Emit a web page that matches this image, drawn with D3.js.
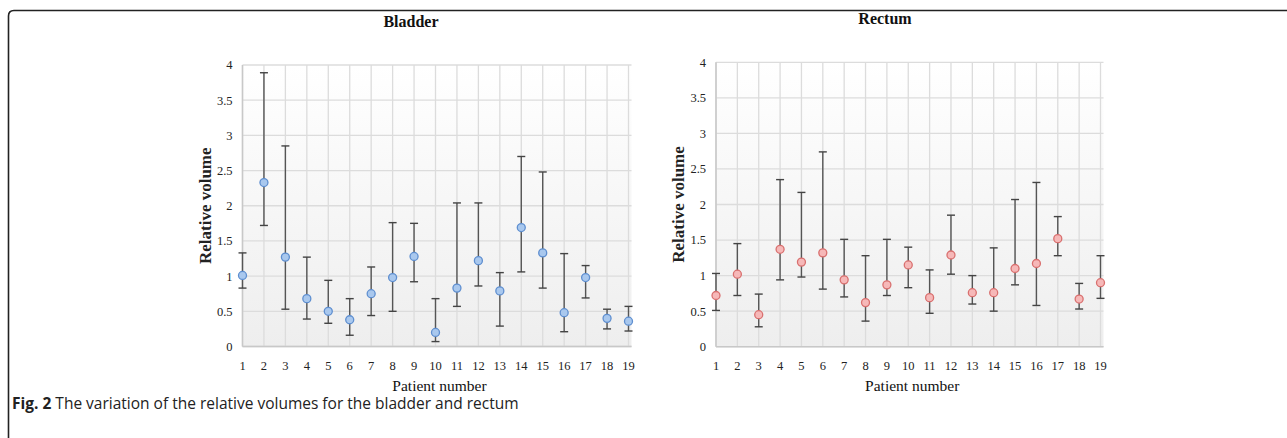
<!DOCTYPE html>
<html>
<head>
<meta charset="utf-8">
<script src="https://cdn.jsdelivr.net/npm/d3@7"></script>
<style>
  body { margin: 0; background: #fff; }
  svg { display: block; }
</style>
</head>
<body>
<script>
(function() {

    const width = 1287;
    const height = 438;

    const patients = d3.range(1, 20);
    const yTicks = [0, 0.5, 1, 1.5, 2, 2.5, 3, 3.5, 4];

    // bladder: mean, lower and upper end of the bar
    const bladderMean = [1.01, 2.33, 1.27, 0.68, 0.50, 0.38, 0.75, 0.98, 1.28, 0.20, 0.83, 1.22, 0.79, 1.69, 1.33, 0.48, 0.98, 0.40, 0.36];
    const bladderLow  = [0.83, 1.72, 0.53, 0.39, 0.33, 0.16, 0.44, 0.50, 0.92, 0.07, 0.57, 0.86, 0.29, 1.06, 0.83, 0.21, 0.69, 0.25, 0.22];
    const bladderHigh = [1.33, 3.89, 2.85, 1.27, 0.94, 0.68, 1.13, 1.76, 1.75, 0.68, 2.04, 2.04, 1.05, 2.70, 2.48, 1.32, 1.15, 0.53, 0.57];

    // rectum
    const rectumMean = [0.72, 1.02, 0.45, 1.37, 1.19, 1.32, 0.94, 0.62, 0.87, 1.15, 0.69, 1.29, 0.76, 0.76, 1.10, 1.17, 1.52, 0.67, 0.90];
    const rectumLow  = [0.51, 0.72, 0.28, 0.94, 0.98, 0.81, 0.70, 0.36, 0.72, 0.83, 0.47, 1.02, 0.60, 0.50, 0.87, 0.58, 1.28, 0.53, 0.68];
    const rectumHigh = [1.03, 1.45, 0.74, 2.35, 2.17, 2.74, 1.51, 1.28, 1.51, 1.40, 1.08, 1.85, 1.00, 1.39, 2.07, 2.31, 1.83, 0.89, 1.28];

    const svg = d3.select("body").append("svg")
        .attr("width", width)
        .attr("height", height);

    // figure frame (rounded top-left corner)
    svg.append("path")
        .attr("d", "M8.5,438 L8.5,16 Q8.5,10.5 14,10.5 L1287,10.5")
        .style("fill", "none")
        .style("stroke", "#222")
        .style("stroke-width", 1.6);

    const defs = svg.append("defs");
    const grad = defs.append("linearGradient")
        .attr("id", "plotbg")
        .attr("x1", 0).attr("y1", 0).attr("x2", 0).attr("y2", 1);
    grad.append("stop").attr("offset", "0%").attr("stop-color", "#ffffff");
    grad.append("stop").attr("offset", "100%").attr("stop-color", "#eeeeee");

    function makePanel(opts) {
        let x = d3.scaleLinear().domain([1, 19]).range([opts.x0, opts.x1]);
        let y = d3.scaleLinear().domain([0, 4]).range([opts.y0, opts.y1]);
        let g = svg.append("g");

        g.append("rect")
            .attr("x", opts.x0)
            .attr("y", opts.y1)
            .attr("width", opts.x1 - opts.x0 + 3)
            .attr("height", opts.y0 - opts.y1)
            .style("fill", "url(#plotbg)");

        // grid
        g.selectAll(".hgrid")
            .data(yTicks)
            .enter()
            .append("line")
            .attr("x1", opts.x0)
            .attr("x2", opts.x1 + 3)
            .attr("y1", d => y(d))
            .attr("y2", d => y(d))
            .style("stroke", "#dcdcdc")
            .style("stroke-width", 1.3);

        g.selectAll(".vgrid")
            .data(patients)
            .enter()
            .append("line")
            .attr("x1", d => x(d))
            .attr("x2", d => x(d))
            .attr("y1", opts.y1)
            .attr("y2", opts.y0)
            .style("stroke", "#dcdcdc")
            .style("stroke-width", 1.3);

        // axis lines
        g.append("line")
            .attr("x1", opts.x0).attr("x2", opts.x1 + 3)
            .attr("y1", opts.y0).attr("y2", opts.y0)
            .style("stroke", "#c8c8c8").style("stroke-width", 1.5);
        g.append("line")
            .attr("x1", opts.x0).attr("x2", opts.x0)
            .attr("y1", opts.y1).attr("y2", opts.y0)
            .style("stroke", "#c8c8c8").style("stroke-width", 1.5);

        // tick labels
        g.selectAll(".ylab")
            .data(yTicks)
            .enter()
            .append("text")
            .attr("x", opts.x0 - 10)
            .attr("y", d => y(d))
            .attr("dy", "0.35em")
            .attr("text-anchor", "end")
            .style("font-family", "Liberation Serif, serif")
            .style("font-size", "12.5px")
            .style("fill", "#222")
            .text(d => d);

        g.selectAll(".xlab")
            .data(patients)
            .enter()
            .append("text")
            .attr("x", d => x(d))
            .attr("y", opts.y0 + 23)
            .attr("text-anchor", "middle")
            .style("font-family", "Liberation Serif, serif")
            .style("font-size", "12.5px")
            .style("fill", "#222")
            .text(d => d);

        // titles
        g.append("text")
            .attr("x", opts.titleX)
            .attr("y", opts.titleY)
            .attr("text-anchor", "middle")
            .style("font-family", "Liberation Serif, serif")
            .style("font-weight", "bold")
            .style("font-size", "16px")
            .style("fill", "#111")
            .text(opts.title);

        g.append("text")
            .attr("x", (opts.x0 + opts.x1) / 2 + 4)
            .attr("y", opts.y0 + 44)
            .attr("text-anchor", "middle")
            .style("font-family", "Liberation Serif, serif")
            .style("font-size", "15.5px")
            .style("fill", "#111")
            .text("Patient number");

        g.append("text")
            .attr("transform", "translate(" + (opts.x0 - 32) + "," + ((opts.y0 + opts.y1) / 2) + ") rotate(-90)")
            .attr("text-anchor", "middle")
            .style("font-family", "Liberation Serif, serif")
            .style("font-weight", "bold")
            .style("font-size", "17px")
            .style("fill", "#222")
            .text("Relative volume");

        // error bars
        let bars = g.selectAll(".bar")
            .data(patients)
            .enter()
            .append("g");

        bars.append("line")
            .attr("x1", d => x(d)).attr("x2", d => x(d))
            .attr("y1", (d, i) => y(opts.low[i]))
            .attr("y2", (d, i) => y(opts.high[i]))
            .style("stroke", "#555").style("stroke-width", 1.4);
        bars.append("line")
            .attr("x1", d => x(d) - 4).attr("x2", d => x(d) + 4)
            .attr("y1", (d, i) => y(opts.low[i]))
            .attr("y2", (d, i) => y(opts.low[i]))
            .style("stroke", "#444").style("stroke-width", 1.4);
        bars.append("line")
            .attr("x1", d => x(d) - 4).attr("x2", d => x(d) + 4)
            .attr("y1", (d, i) => y(opts.high[i]))
            .attr("y2", (d, i) => y(opts.high[i]))
            .style("stroke", "#444").style("stroke-width", 1.4);

        bars.append("circle")
            .attr("cx", d => x(d))
            .attr("cy", (d, i) => y(opts.mean[i]))
            .attr("r", 4)
            .style("fill", opts.fill)
            .style("stroke", opts.stroke)
            .style("stroke-width", 1.3);
    }

    makePanel({
        title: "Bladder", titleX: 411, titleY: 27,
        x0: 242.5, x1: 628.5, y0: 346.5, y1: 65,
        mean: bladderMean, low: bladderLow, high: bladderHigh,
        fill: "#a9c8ee", stroke: "#5f8fd0"
    });

    makePanel({
        title: "Rectum", titleX: 885, titleY: 24,
        x0: 716, x1: 1100.5, y0: 346.7, y1: 62.3,
        mean: rectumMean, low: rectumLow, high: rectumHigh,
        fill: "#f6b8b8", stroke: "#d9706f"
    });

    // caption
    let cap = svg.append("text")
        .attr("x", 12)
        .attr("y", 409)
        .style("font-family", "Open Sans, sans-serif")
        .style("font-size", "15.5px")
        .style("fill", "#222");
    cap.append("tspan").style("font-weight", "bold").text("Fig. 2");
    cap.append("tspan").text(" The variation of the relative volumes for the bladder and rectum");

})();
</script>
</body>
</html>
